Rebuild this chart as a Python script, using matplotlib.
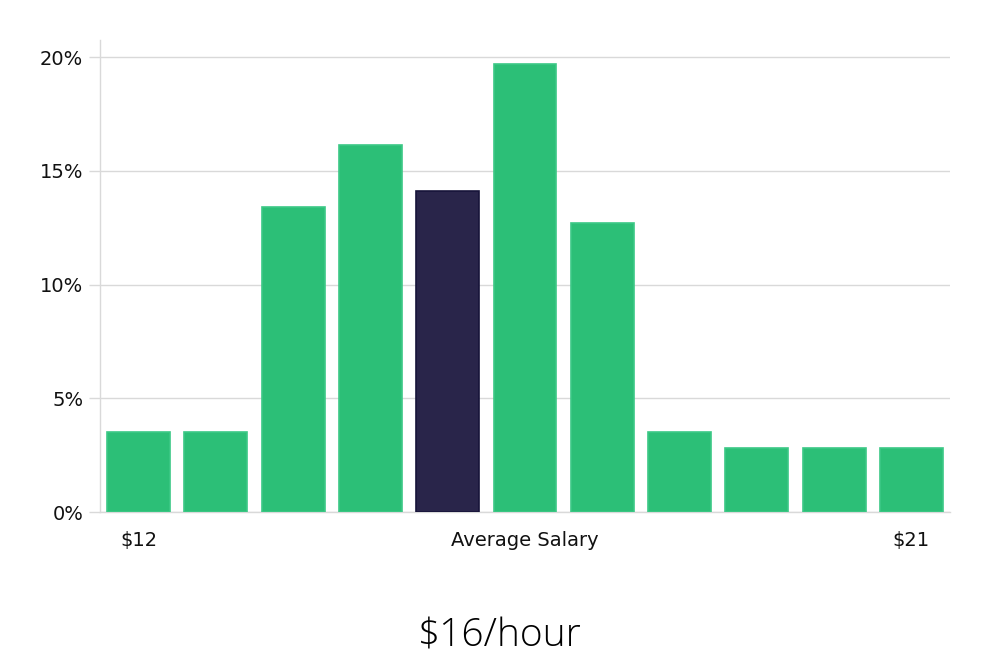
import matplotlib
matplotlib.use("Agg")
import matplotlib.pyplot as plt
from matplotlib.ticker import FuncFormatter

values = [3.5, 3.5, 13.4, 16.15, 14.1, 19.7, 12.7, 3.5, 2.8, 2.8, 2.8]
highlight_index = 4
xtick_positions = [0, 5, 10]
xtick_labels = ["$12", "Average Salary", "$21"]
yticks = [0, 5, 10, 15, 20]
title = "$16/hour"

green = "#2cbf77"
green_edge = "#3cc886"
dark = "#29254a"
dark_edge = "#16143a"
grid_color = "#d9d9d9"

fig = plt.figure(figsize=(10, 6.6), dpi=100)
ax = fig.add_axes([0.1, 0.2242, 0.85, 0.715])

x = list(range(len(values)))
colors = [dark if i == highlight_index else green for i in x]
edges = [dark_edge if i == highlight_index else green_edge for i in x]
ax.bar(x, values, width=0.815, color=colors, edgecolor=edges, linewidth=1.2, zorder=3)

ax.set_xlim(-0.5, len(values) - 0.5)
ax.set_ylim(0, 20.75)
ax.set_yticks(yticks)
ax.yaxis.set_major_formatter(FuncFormatter(lambda v, p: f"{v:.0f}%"))
ax.set_xticks(xtick_positions)
ax.set_xticklabels(xtick_labels)
ax.tick_params(axis="x", length=0, labelsize=14, pad=14, colors="#111111")
ax.tick_params(axis="y", length=8, width=1, color=grid_color, labelsize=14, pad=4, labelcolor="#111111")
ax.grid(axis="y", color=grid_color, linewidth=1, zorder=0)

for s in ["top", "right"]:
    ax.spines[s].set_visible(False)
for s in ["left", "bottom"]:
    ax.spines[s].set_color(grid_color)
    ax.spines[s].set_linewidth(1)

fig.text(0.5, 0.02, title, ha="center", va="baseline", fontsize=28,
         family=["Open Sans", "DejaVu Sans"], fontweight="light", color="#000000")

fig.savefig("out.png", dpi=100, facecolor="white")
